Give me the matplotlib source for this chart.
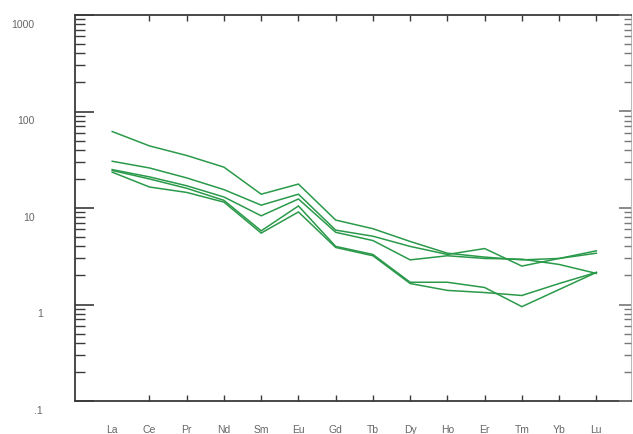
import matplotlib
matplotlib.use("Agg")
import matplotlib.pyplot as plt
from matplotlib.ticker import FixedLocator, LogLocator, NullFormatter
from matplotlib.transforms import ScaledTranslation

# Chondrite-normalised REE patterns
elements = ["La", "Ce", "Pr", "Nd", "Sm", "Eu", "Gd", "Tb", "Dy", "Ho", "Er", "Tm", "Yb", "Lu"]

sample_a = [62, 44, 35, 26.5, 13.9, 17.7, 7.5, 6.1, 4.5, 3.4, 3.1, 2.9, 3.0, 3.4]
sample_b = [30.5, 26, 20.5, 15.5, 10.7, 13.9, 5.9, 5.1, 4.0, 3.3, 3.8, 2.5, 3.0, 3.6]
sample_c = [25, 21, 17, 13, 8.3, 12.4, 5.6, 4.6, 2.9, 3.2, 3.0, 2.95, 2.6, 2.1]
sample_d = [24.5, 20, 16, 12, 5.8, 10.5, 4.0, 3.3, 1.7, 1.7, 1.5, 0.95, 1.43, 2.15]
sample_e = [23.5, 16.5, 14.5, 11.5, 5.5, 9.1, 3.9, 3.2, 1.65, 1.4, 1.33, 1.24, 1.65, 2.15]

y_ticks = [0.1, 1, 10, 100, 1000]
y_labels = [".1", "1", "10", "100", "1000"]

W, H = 633, 435
fig = plt.figure(figsize=(W / 100, H / 100), dpi=100)
left, right, bottom, top = 75, 631, 402, 16
ax = fig.add_axes([left / W, 1 - bottom / H, (right - left) / W, (bottom - top) / H])

green = "#2a9a4a"
x = list(range(len(elements)))
for s in (sample_a, sample_b, sample_c, sample_d, sample_e):
    ax.plot(x, s, color=green, lw=1.1, solid_joinstyle="miter")

ax.set_yscale("log")
ax.set_ylim(0.1, 1000)
ax.set_xlim(-1, 13.93)

# spines
for side in ("left", "bottom", "top"):
    ax.spines[side].set_color("#3a3a3a")
    ax.spines[side].set_linewidth(1.3)
ax.spines["right"].set_color("#bbbbbb")
ax.spines["right"].set_linewidth(0.8)

# x ticks: inward marks on top and bottom (none at La)
ax.xaxis.set_major_locator(FixedLocator(x[1:]))
ax.tick_params(axis="x", which="major", direction="in", length=4, width=1.0,
               color="#3a3a3a", top=True, bottom=True, labelbottom=False)
for i, name in enumerate(elements):
    ax.text(i, -0.072, name, transform=ax.get_xaxis_transform(), ha="center", va="center",
            fontsize=7.5, color="#666666", family="Liberation Sans")

# y ticks
ax.yaxis.set_major_locator(FixedLocator(y_ticks))
ax.yaxis.set_minor_locator(LogLocator(base=10, subs=range(2, 10)))
ax.yaxis.set_minor_formatter(NullFormatter())
ax.set_yticks(y_ticks)
ax.set_yticklabels(y_labels)
ax.tick_params(axis="y", which="major", direction="in", length=14, width=1.2,
               color="#3a3a3a", left=True, right=False, pad=29,
               labelsize=7.5, labelcolor="#666666")
ax.tick_params(axis="y", which="minor", direction="in", length=7, width=1.0,
               color="#3a3a3a", left=True, right=False)
for lab in ax.get_yticklabels():
    lab.set_family("Liberation Sans")
    dx = 8 if lab.get_text() in ("1", ".1") else 0
    lab.set_transform(lab.get_transform() + ScaledTranslation(dx / 100, -8 / 100, fig.dpi_scale_trans))

# right-side inward ticks drawn on a twin axis
axr = ax.twinx()
axr.set_yscale("log")
axr.set_ylim(0.1, 1000)
axr.yaxis.set_major_locator(FixedLocator(y_ticks))
axr.yaxis.set_minor_locator(LogLocator(base=10, subs=range(2, 10)))
axr.yaxis.set_minor_formatter(NullFormatter())
axr.tick_params(axis="y", which="major", direction="in", length=9, width=1.2,
                color="#777777", labelright=False)
axr.tick_params(axis="y", which="minor", direction="in", length=5, width=1.0,
                color="#777777")
for s in axr.spines.values():
    s.set_visible(False)

fig.savefig("out.png", dpi=100)
